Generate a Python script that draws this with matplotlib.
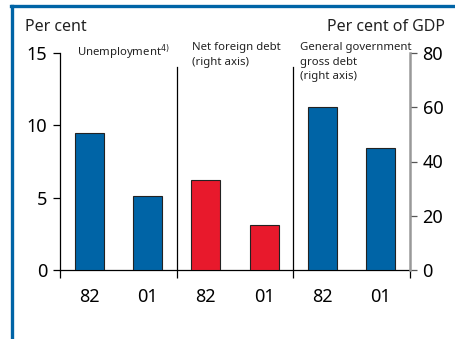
import matplotlib
matplotlib.use('Agg')
import matplotlib.pyplot as plt
from matplotlib.lines import Line2D

# data
years = ['82', '01', '82', '01', '82', '01']
unemployment = [9.5, 5.1]          # per cent, left axis
net_foreign_debt = [33.0, 16.6]    # per cent of GDP, right axis
gov_debt = [60.0, 45.0]            # per cent of GDP, right axis
panel_labels = ['Unemployment$^{4)}$', 'Net foreign debt\n(right axis)',
                'General government\ngross debt\n(right axis)']

blue = '#0064a6'
red = '#e8192c'
plt.rcParams['font.family'] = ['Noto Sans', 'DejaVu Sans']

fig = plt.figure(figsize=(4.55, 3.39), dpi=100)
ax = fig.add_axes([60/455, 1-270/339, 350/455, 217/339])
ax2 = ax.twinx()

ax.bar([0.5, 1.5], unemployment, width=0.5, color=blue, edgecolor='#222222', linewidth=0.8, zorder=3)
ax2.bar([2.5, 3.5], net_foreign_debt, width=0.5, color=red, edgecolor='#222222', linewidth=0.8, zorder=3)
ax2.bar([4.5, 5.5], gov_debt, width=0.5, color=blue, edgecolor='#222222', linewidth=0.8, zorder=3)

ax.set_xlim(0, 6)
ax.set_ylim(0, 15)
ax2.set_ylim(0, 80)
ax.set_yticks([0, 5, 10, 15])
ax2.set_yticks([0, 20, 40, 60, 80])

# separators between panels
for x in [2, 4]:
    ax.plot([x, x], [0, 14], color='black', linewidth=0.9, zorder=2)

for a in (ax, ax2):
    a.spines['top'].set_visible(False)
ax.spines['right'].set_visible(False)
ax2.spines['left'].set_visible(False)
ax2.spines['bottom'].set_visible(False)
ax.spines['left'].set_linewidth(0.9)
ax.spines['bottom'].set_linewidth(0.9)
ax2.spines['right'].set_color('#999999')
ax2.spines['right'].set_linewidth(1.8)

ax.tick_params(axis='y', direction='out', length=5, width=0.9, labelsize=13, pad=4)
ax2.tick_params(axis='y', direction='out', length=5, width=0.9, color='#555555', labelsize=13, pad=4)

ax.set_xticks([0, 2, 4, 6])
ax.set_xticklabels([])
ax.tick_params(axis='x', which='major', direction='out', length=6, width=0.9)
ax.set_xticks([0.5, 1.5, 2.5, 3.5, 4.5, 5.5], minor=True)
ax.set_xticklabels(years, minor=True)
ax.tick_params(axis='x', which='minor', length=0, labelsize=13, pad=13)

# panel labels
ax.text(0.29, 15.75, panel_labels[0], fontsize=8.2, va='top', ha='left', color='#222222')
ax.text(2.26, 15.75, panel_labels[1], fontsize=8.2, va='top', ha='left', color='#222222', linespacing=1.45)
ax.text(4.12, 15.75, panel_labels[2], fontsize=8.2, va='top', ha='left', color='#222222', linespacing=1.45)

fig.text(25/455, 1-31/339, 'Per cent', fontsize=11.5, ha='left', va='baseline', color='#222222')
fig.text(445/455, 1-31/339, 'Per cent of GDP', fontsize=11.5, ha='right', va='baseline', color='#222222')

# blue frame
fig.add_artist(Line2D([12/455, 12/455], [0, 1-6/339], color=blue, linewidth=2.4, transform=fig.transFigure))
fig.add_artist(Line2D([11/455, 1], [1-6/339, 1-6/339], color=blue, linewidth=2.4, transform=fig.transFigure))

plt.savefig('out.png', dpi=100)
